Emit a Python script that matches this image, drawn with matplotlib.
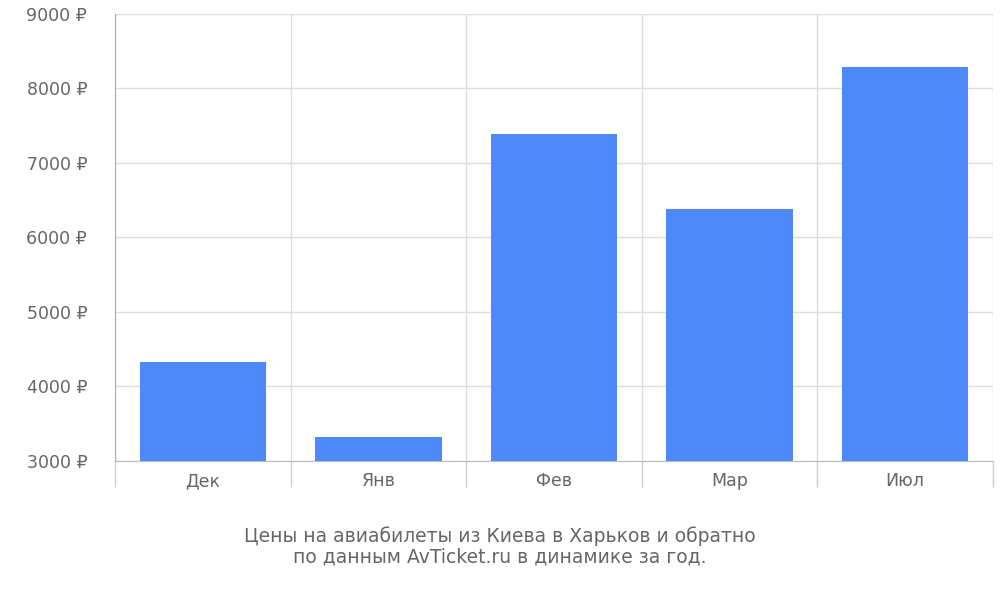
import numpy as np
import matplotlib.pyplot as plt

months = ['Дек', 'Янв', 'Фев', 'Мар', 'Июл']
prices = [4320, 3320, 7380, 6380, 8280]
yticks = [3000, 4000, 5000, 6000, 7000, 8000, 9000]

fig = plt.figure(figsize=(10, 6), dpi=100)
ax = fig.add_axes([0.115, 0.232, 0.878, 0.745])

x = np.arange(len(months))
ax.bar(x, prices, width=0.72, color='#4d89f9', zorder=3)

ax.set_xlim(-0.5, len(months) - 0.5)
ax.set_ylim(3000, 9000)
ax.set_yticks(yticks)
ax.set_yticklabels(['{} ₽'.format(v) for v in yticks])

ax.set_xticks(np.arange(len(months) + 1) - 0.5)
ax.set_xticklabels([])
ax.set_xticks(x, minor=True)
ax.set_xticklabels(months, minor=True)
ax.tick_params(axis='x', which='major', length=19, color='#cccccc', width=1)
ax.tick_params(axis='x', which='minor', length=0, pad=8, labelsize=12.5, labelcolor='#666666')
ax.tick_params(axis='y', length=0, pad=20, labelsize=12.5, labelcolor='#666666')
for lab in ax.get_yticklabels():
    lab.set_horizontalalignment('right')
ax.yaxis.set_tick_params(pad=20)

ax.grid(True, which='major', color='#dddddd', linewidth=1, zorder=0)
for s in ['top', 'right']:
    ax.spines[s].set_visible(False)
ax.spines['left'].set_color('#aaaaaa')
ax.spines['bottom'].set_color('#bbbbbb')

fig.text(0.5, 0.09, 'Цены на авиабилеты из Киева в Харьков и обратно\nпо данным AvTicket.ru в динамике за год.',
         ha='center', va='center', fontsize=13.5, color='#666666', linespacing=1.1)

fig.savefig('out.png')
